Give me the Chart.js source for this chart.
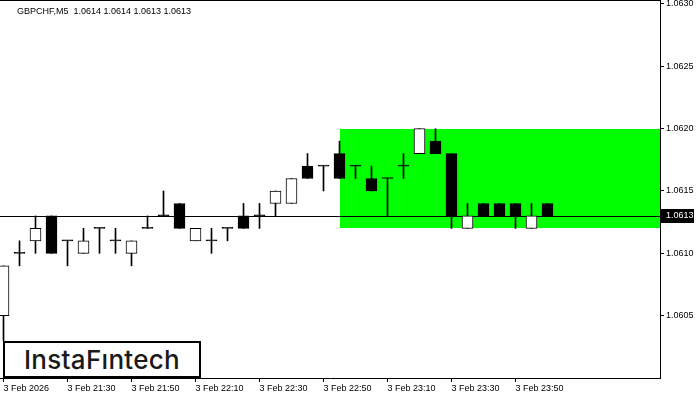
<!DOCTYPE html>
<html><head><meta charset="utf-8">
<script src="https://cdn.jsdelivr.net/npm/chart.js@4"></script>
<style>
html,body{margin:0;padding:0;background:#fff;}
#wrap{position:relative;width:700px;height:400px;overflow:hidden;}
#header{position:absolute;left:17px;top:6px;font:9px 'Liberation Sans',Arial,sans-serif;color:#000;white-space:pre;}
#logo{position:absolute;left:3px;top:341px;width:194px;height:33px;border:2px solid #000;background:#fff;
  font:500 26px 'Inter',sans-serif;color:#1a1a1a;text-align:center;line-height:33px;letter-spacing:0.3px;}
</style></head>
<body>
<div id="wrap">
<canvas id="c" width="700" height="400"></canvas>
<div id="header">GBPCHF,M5  1.0614 1.0614 1.0613 1.0613</div>
<div id="logo">InstaFıntech</div>
</div>
<script>
const times  = ['21:10','21:15','21:20','21:25','21:30','21:35','21:40','21:45','21:50','21:55','22:00','22:05','22:10','22:15','22:20','22:25','22:30','22:35','22:40','22:45','22:50','22:55','23:00','23:05','23:10','23:15','23:20','23:25','23:30','23:35','23:40','23:45','23:50','23:55'];
const opens  = [1.0605,1.0610,1.0611,1.0613,1.0611,1.0610,1.0612,1.0611,1.0610,1.0612,1.0613,1.0614,1.0611,1.0611,1.0612,1.0613,1.0613,1.0614,1.0614,1.0617,1.0617,1.0618,1.0617,1.0616,1.0616,1.0617,1.0618,1.0619,1.0618,1.0612,1.0614,1.0614,1.0614,1.0612,1.0614];
const highs  = [1.0609,1.0611,1.0613,1.0613,1.0611,1.0612,1.0612,1.0612,1.0611,1.0613,1.0615,1.0614,1.0612,1.0612,1.0612,1.0614,1.0614,1.0615,1.0616,1.0618,1.0617,1.0619,1.0617,1.0617,1.0616,1.0618,1.0620,1.0620,1.0618,1.0614,1.0614,1.0614,1.0614,1.0614,1.0614];
const lows   = [1.0603,1.0609,1.0610,1.0610,1.0609,1.0610,1.0610,1.0610,1.0609,1.0612,1.0613,1.0612,1.0611,1.0610,1.0611,1.0612,1.0612,1.0613,1.0614,1.0616,1.0615,1.0616,1.0616,1.0615,1.0613,1.0616,1.0618,1.0618,1.0612,1.0612,1.0613,1.0613,1.0612,1.0612,1.0613];
const closes = [1.0609,1.0610,1.0612,1.0610,1.0611,1.0611,1.0612,1.0611,1.0611,1.0612,1.0613,1.0612,1.0612,1.0611,1.0612,1.0612,1.0613,1.0615,1.0616,1.0616,1.0617,1.0616,1.0617,1.0615,1.0616,1.0617,1.0620,1.0618,1.0613,1.0613,1.0613,1.0613,1.0613,1.0613,1.0613];
const xTickIndex  = [0,4,8,12,16,20,24,28,32];
const xTickLabels = ['3 Feb 2026','3 Feb 21:30','3 Feb 21:50','3 Feb 22:10','3 Feb 22:30','3 Feb 22:50','3 Feb 23:10','3 Feb 23:30','3 Feb 23:50'];
const yTickValues = [1.0605,1.0610,1.0615,1.0620,1.0625,1.0630];
const zoneStart = 21, zoneTop = 1.0620, zoneBottom = 1.0612;
const lastPrice = closes[closes.length-1];

const wickData = opens.map((o,i)=>({x:i, y:[lows[i], highs[i]]}));
const bodyData = opens.map((o,i)=>({x:i, y:[o, closes[i]]}));
const bodyColors = opens.map((o,i)=> closes[i] > o ? '#ffffff' : '#000000');

const zonePlugin = {
  id:'zone',
  beforeDatasetsDraw(chart){
    const {ctx, chartArea, scales:{x,y}} = chart;
    ctx.save();
    ctx.fillStyle = '#00ff00';
    const x1 = Math.round(x.getPixelForValue(zoneStart));
    const y1 = Math.round(y.getPixelForValue(zoneTop));
    const y2 = Math.round(y.getPixelForValue(zoneBottom));
    ctx.fillRect(x1, y1, chartArea.right - x1, y2 - y1);
    const yl = Math.round(y.getPixelForValue(lastPrice)) + 0.5;
    ctx.strokeStyle = '#000'; ctx.lineWidth = 1;
    ctx.beginPath(); ctx.moveTo(chartArea.left, yl); ctx.lineTo(chartArea.right, yl); ctx.stroke();
    ctx.restore();
  },
  afterDraw(chart){
    const {ctx, chartArea, scales:{y}} = chart;
    ctx.save();
    ctx.strokeStyle = '#000'; ctx.lineWidth = 1;
    ctx.beginPath(); ctx.moveTo(chartArea.left, 0.5); ctx.lineTo(chartArea.right, 0.5); ctx.stroke();
    const yl = Math.round(y.getPixelForValue(lastPrice));
    ctx.fillStyle = '#000';
    ctx.fillRect(chartArea.right, yl - 7, 34, 14);
    ctx.fillStyle = '#fff';
    ctx.font = "9px 'Liberation Sans', Arial, sans-serif";
    ctx.textBaseline = 'middle';
    ctx.textAlign = 'left';
    ctx.fillText(lastPrice.toFixed(4), chartArea.right + 6, yl);
    ctx.restore();
  }
};

Chart.defaults.font.family = "'Liberation Sans', Arial, sans-serif";
Chart.defaults.font.size = 9;
Chart.defaults.color = '#000';

new Chart(document.getElementById('c'), {
  type:'bar',
  data:{
    datasets:[
      {label:'wick', data:wickData, backgroundColor:'#000', barThickness:1, grouped:false, order:2, borderWidth:0},
      {label:'body', data:bodyData, backgroundColor:bodyColors, borderColor:'#000', borderWidth:1, borderSkipped:false,
       barThickness:11, minBarLength:1, grouped:false, order:1}
    ]
  },
  options:{
    responsive:false, animation:false, devicePixelRatio:1,
    layout:{padding:0},
    plugins:{legend:{display:false}, tooltip:{enabled:false}},
    scales:{
      x:{
        type:'linear', offset:false, min:-0.21875, max:41.03125,
        grid:{offset:false, drawOnChartArea:false, drawTicks:true, tickLength:4, tickColor:'#000'},
        border:{display:true, color:'#000', width:1},
        ticks:{align:'start', maxRotation:0, autoSkip:false, padding:1,
          callback:(v,i)=>xTickLabels[i]},
        afterBuildTicks:(s)=>{ s.ticks = xTickIndex.map(v=>({value:v})); },
        afterFit:(s)=>{ s.height = 22; s.paddingLeft=0; s.paddingRight=0; s.paddingTop=0; s.paddingBottom=0; }
      },
      y:{
        type:'linear', position:'right', min:1.0600, max:1.063032, beginAtZero:false,
        grid:{drawOnChartArea:false, drawTicks:true, tickLength:4, tickColor:'#000'},
        border:{display:true, color:'#000', width:1},
        ticks:{padding:2, callback:(v)=>v.toFixed(4)},
        afterBuildTicks:(s)=>{ s.ticks = yTickValues.map(v=>({value:v})); },
        afterFit:(s)=>{ s.width = 40; s.paddingTop=0; s.paddingBottom=0; s.paddingLeft=0; s.paddingRight=0; }
      }
    }
  },
  plugins:[zonePlugin]
});
</script>
</body></html>
